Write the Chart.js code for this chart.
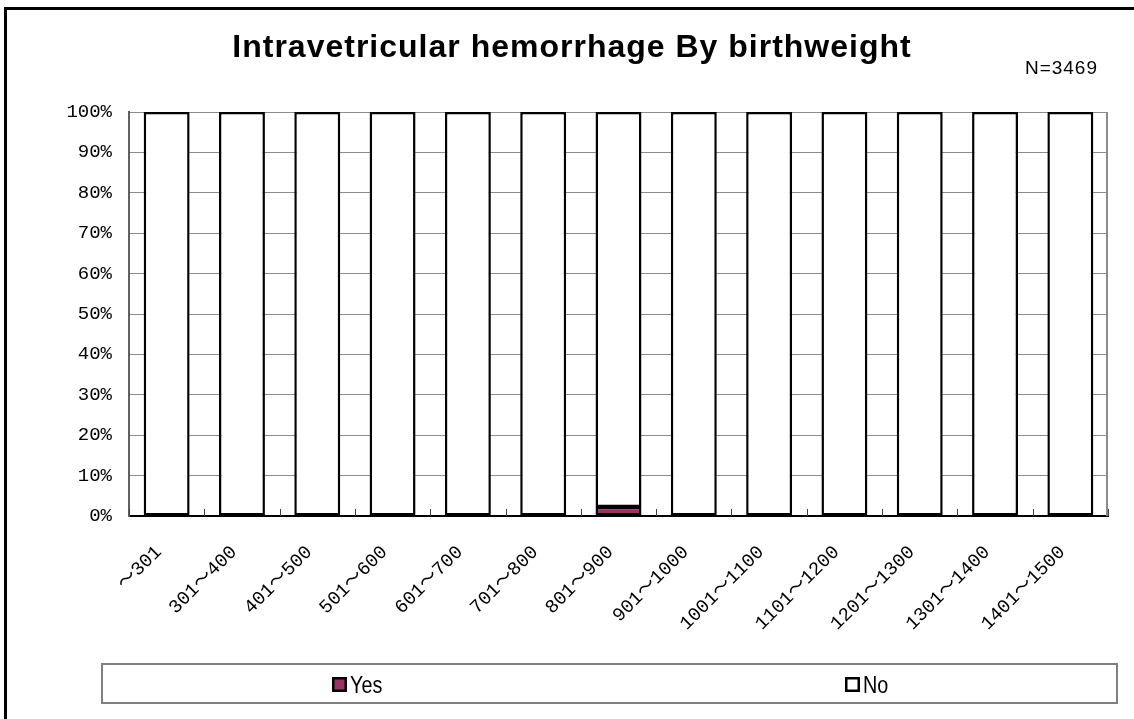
<!DOCTYPE html>
<html>
<head>
<meta charset="utf-8">
<title>Intravetricular hemorrhage By birthweight</title>
<script src="https://cdn.jsdelivr.net/npm/chart.js@4"></script>
<style>
  html, body { margin: 0; padding: 0; background: #ffffff; }
  #wrap { position: relative; width: 1134px; height: 719px; }
</style>
</head>
<body>
<div id="wrap"><canvas id="chart" width="1134" height="719"></canvas></div>
<script>
// Birthweight bands (g)
const categories = ['〜301', '301〜400', '401〜500', '501〜600', '601〜700', '701〜800', '801〜900',
  '901〜1000', '1001〜1100', '1101〜1200', '1201〜1300', '1301〜1400', '1401〜1500'];
// Share of infants (%) with / without intraventricular hemorrhage
const yesValues = [0, 0, 0, 0, 0, 0, 2.2, 0, 0, 0, 0, 0, 0];
const noValues = [100, 100, 100, 100, 100, 100, 97.8, 100, 100, 100, 100, 100, 100];
const seriesNames = ['Yes', 'No'];
const seriesColors = ['#993366', '#ffffff'];
const yTicks = [0, 10, 20, 30, 40, 50, 60, 70, 80, 90, 100];
const titleText = 'Intravetricular hemorrhage By birthweight';
const countText = 'N=3469';

const monoFont = '"Liberation Mono", "Noto Sans CJK JP", monospace';

// Frame, title, plot border, inside tick marks and the boxed legend
const decorations = {
  id: 'decorations',
  beforeDraw(chart) {
    const ctx = chart.ctx;
    ctx.save();
    ctx.fillStyle = '#ffffff';
    ctx.fillRect(0, 0, chart.width, chart.height);
    ctx.strokeStyle = '#000000';
    ctx.lineWidth = 3;
    ctx.beginPath();
    ctx.moveTo(5.5, chart.height + 5);
    ctx.lineTo(5.5, 8.5);
    ctx.lineTo(chart.width + 5, 8.5);
    ctx.stroke();

    ctx.fillStyle = '#000000';
    ctx.font = 'bold 32px "Liberation Sans", Arial, sans-serif';
    ctx.letterSpacing = '1px';
    ctx.textAlign = 'center';
    ctx.textBaseline = 'alphabetic';
    ctx.fillText(titleText, 572, 57);
    ctx.font = '19px "Liberation Sans", Arial, sans-serif';
    ctx.letterSpacing = '1px';
    ctx.textAlign = 'right';
    ctx.fillText(countText, 1098, 74);
    ctx.letterSpacing = '0px';
    ctx.restore();
  },
  afterDatasetsDraw(chart) {
    const ctx = chart.ctx;
    const area = chart.chartArea;
    const xs = chart.scales.x;
    ctx.save();
    // right edge of the plot
    ctx.strokeStyle = '#8c8c8c';
    ctx.lineWidth = 2;
    ctx.beginPath();
    ctx.moveTo(area.right - 1, area.top);
    ctx.lineTo(area.right - 1, area.bottom);
    ctx.stroke();
    // inside tick marks between categories
    ctx.strokeStyle = '#404040';
    ctx.lineWidth = 1;
    const step = xs.getPixelForValue(1) - xs.getPixelForValue(0);
    for (let i = 0; i <= categories.length; i++) {
      const px = Math.round(xs.getPixelForValue(i) - step / 2) + 0.5;
      ctx.beginPath();
      ctx.moveTo(px, area.bottom);
      ctx.lineTo(px, area.bottom - 7);
      ctx.stroke();
    }
    ctx.restore();
  },
  afterDraw(chart) {
    const ctx = chart.ctx;
    ctx.save();
    // legend box
    ctx.strokeStyle = '#808080';
    ctx.lineWidth = 2;
    ctx.strokeRect(102, 664, 1015, 39);
    const itemX = [332, 845];
    chart.data.datasets.forEach((ds, i) => {
      const x = itemX[i];
      ctx.fillStyle = ds.backgroundColor;
      ctx.fillRect(x, 677, 15, 15);
      ctx.strokeStyle = '#000000';
      ctx.lineWidth = 2.5;
      ctx.strokeRect(x + 1.25, 678.25, 12.5, 12.5);
      ctx.save();
      ctx.translate(x + 18, 693);
      ctx.scale(0.86, 1);
      ctx.fillStyle = '#000000';
      ctx.font = '23px "Liberation Sans", Arial, sans-serif';
      ctx.textAlign = 'left';
      ctx.textBaseline = 'alphabetic';
      ctx.fillText(ds.label, 0, 0);
      ctx.restore();
    });
    ctx.restore();
  }
};

new Chart(document.getElementById('chart'), {
  type: 'bar',
  data: {
    labels: categories,
    datasets: [
      {
        label: seriesNames[0],
        data: yesValues,
        backgroundColor: seriesColors[0],
        borderColor: '#000000',
        borderWidth: 2.5,
        borderSkipped: false,
        categoryPercentage: 1,
        barPercentage: 0.61
      },
      {
        label: seriesNames[1],
        data: noValues,
        backgroundColor: seriesColors[1],
        borderColor: '#000000',
        borderWidth: 2.5,
        borderSkipped: false,
        categoryPercentage: 1,
        barPercentage: 0.61
      }
    ]
  },
  options: {
    responsive: false,
    animation: false,
    devicePixelRatio: 1,
    layout: { padding: { top: 112, right: 26, left: 0, bottom: 0 } },
    plugins: {
      legend: { display: false },
      title: { display: false },
      tooltip: { enabled: false }
    },
    scales: {
      x: {
        stacked: true,
        afterFit(scale) { scale.height = 203; },
        grid: { display: false },
        border: { display: true, color: '#000000', width: 2 },
        ticks: {
          autoSkip: false,
          minRotation: 45,
          maxRotation: 45,
          padding: 17,
          labelOffset: -8,
          color: '#000000',
          font: { family: monoFont, size: 19 }
        }
      },
      y: {
        stacked: true,
        min: 0,
        max: 100,
        afterFit(scale) { scale.width = 129; },
        afterBuildTicks(scale) { scale.ticks = yTicks.map(v => ({ value: v })); },
        grid: { color: '#8c8c8c', lineWidth: 1, drawTicks: false },
        border: { display: true, color: '#606060', width: 2 },
        ticks: {
          padding: 17,
          color: '#000000',
          font: { family: monoFont, size: 19 },
          callback: v => v + '%'
        }
      }
    }
  },
  plugins: [decorations]
});
</script>
</body>
</html>
